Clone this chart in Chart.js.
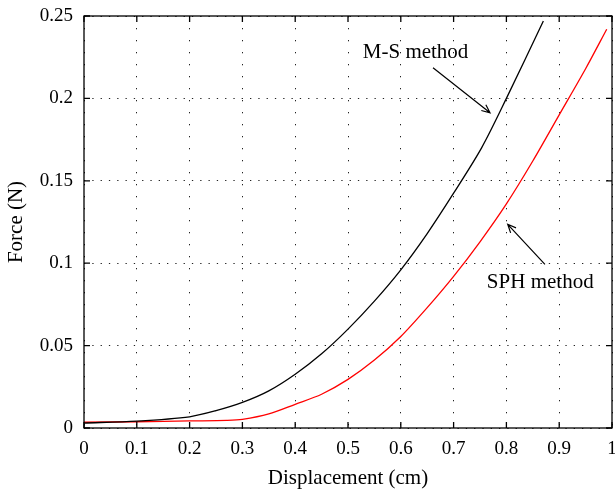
<!DOCTYPE html>
<html>
<head>
<meta charset="utf-8">
<script src="https://cdn.jsdelivr.net/npm/chart.js@4.4.1/dist/chart.umd.min.js"></script>
<style>
html, body { margin: 0; padding: 0; background: #fff; }
#wrap { width: 615px; height: 494px; }
</style>
</head>
<body>
<div id="wrap"><canvas id="grafico" width="615" height="494"></canvas></div>
<script>
// valores
const msX  = [0, 0.1, 0.2, 0.25, 0.3, 0.35, 0.4, 0.45, 0.5, 0.55, 0.6, 0.65, 0.7, 0.753, 0.8, 0.87];
const msY  = [0.003, 0.0042, 0.0068, 0.0105, 0.0155, 0.0225, 0.0326, 0.045, 0.06, 0.077, 0.096, 0.118, 0.1425, 0.170, 0.2, 0.247];
const sphX = [0, 0.1, 0.2, 0.27, 0.3, 0.35, 0.4, 0.45, 0.5, 0.55, 0.6, 0.65, 0.7, 0.75, 0.8, 0.85, 0.9, 0.95, 0.99];
const sphY = [0.0035, 0.0038, 0.0043, 0.0046, 0.0052, 0.0085, 0.0144, 0.0205, 0.0295, 0.0412, 0.0555, 0.073, 0.092, 0.113, 0.136, 0.162, 0.19, 0.218, 0.242];

const xTicks = [0, 0.1, 0.2, 0.3, 0.4, 0.5, 0.6, 0.7, 0.8, 0.9, 1];
const yTicks = [0, 0.05, 0.1, 0.15, 0.2, 0.25];

const seriesNames = ['M-S method', 'SPH method'];

// posição das anotações em unidades dos eixos
const notas = [
    { text: seriesNames[0], x: 0.528, y: 0.2277, from: [0.661, 0.2186], to: [0.769, 0.1913] },
    { text: seriesNames[1], x: 0.763, y: 0.0886, from: [0.873, 0.0993], to: [0.8025, 0.1236] }
];

const serif = "'Liberation Serif', 'Times New Roman', serif";

function pontos(xs, ys) {
    return xs.map((x, i) => ({ x: x, y: ys[i] }));
}

function fixarEixo(largura, altura) {
    return function (scale) {
        if (largura !== null) scale.width = largura;
        if (altura !== null) scale.height = altura;
        scale.paddingLeft = 0;
        scale.paddingRight = 0;
        scale.paddingTop = 0;
        scale.paddingBottom = 0;
    };
}

const molduraPlugin = {
    id: 'moldura',
    afterDraw(chart) {
        const ctx = chart.ctx;
        const a = chart.chartArea;
        const sx = chart.scales.x;
        const sy = chart.scales.y;
        const tick = 6;
        ctx.save();
        ctx.strokeStyle = '#000';
        ctx.lineWidth = 1.3;
        ctx.beginPath();
        xTicks.forEach(v => {
            const px = sx.getPixelForValue(v);
            ctx.moveTo(px, a.bottom); ctx.lineTo(px, a.bottom - tick);
            ctx.moveTo(px, a.top); ctx.lineTo(px, a.top + tick);
        });
        yTicks.forEach(v => {
            const py = sy.getPixelForValue(v);
            ctx.moveTo(a.left, py); ctx.lineTo(a.left + tick, py);
            ctx.moveTo(a.right, py); ctx.lineTo(a.right - tick, py);
        });
        ctx.stroke();
        ctx.strokeRect(a.left, a.top, a.right - a.left, a.bottom - a.top);

        // anotações
        ctx.fillStyle = '#000';
        ctx.font = '21px ' + serif;
        ctx.textBaseline = 'middle';
        ctx.textAlign = 'left';
        ctx.lineWidth = 1.2;
        notas.forEach(n => {
            ctx.fillText(n.text, sx.getPixelForValue(n.x), sy.getPixelForValue(n.y));
            const x1 = sx.getPixelForValue(n.from[0]), y1 = sy.getPixelForValue(n.from[1]);
            const x2 = sx.getPixelForValue(n.to[0]), y2 = sy.getPixelForValue(n.to[1]);
            const ang = Math.atan2(y2 - y1, x2 - x1);
            ctx.beginPath();
            ctx.moveTo(x1, y1); ctx.lineTo(x2, y2);
            ctx.moveTo(x2 - 9 * Math.cos(ang - 0.42), y2 - 9 * Math.sin(ang - 0.42));
            ctx.lineTo(x2, y2);
            ctx.lineTo(x2 - 9 * Math.cos(ang + 0.42), y2 - 9 * Math.sin(ang + 0.42));
            ctx.stroke();
        });
        ctx.restore();
    }
};

const ctx = document.getElementById('grafico').getContext('2d');

new Chart(ctx, {
    type: 'scatter',
    data: {
        datasets: [{
            label: seriesNames[0],
            data: pontos(msX, msY),
            showLine: true,
            borderColor: '#000000',
            borderWidth: 1.3,
            pointRadius: 0,
            tension: 0.3
        }, {
            label: seriesNames[1],
            data: pontos(sphX, sphY),
            showLine: true,
            borderColor: '#ff0000',
            borderWidth: 1.3,
            pointRadius: 0,
            tension: 0.3
        }]
    },
    options: {
        responsive: false,
        animation: false,
        layout: { padding: { left: 0, right: 3, top: 16, bottom: 3 } },
        plugins: {
            legend: { display: false },
            tooltip: { enabled: false }
        },
        scales: {
            x: {
                type: 'linear',
                min: 0,
                max: 1,
                afterBuildTicks: s => { s.ticks = xTicks.map(v => ({ value: v })); },
                afterFit: fixarEixo(null, 63),
                ticks: {
                    color: '#000',
                    padding: 10,
                    font: { family: serif, size: 19 },
                    callback: v => String(v)
                },
                grid: { color: '#222', lineWidth: 1, drawTicks: false },
                border: { display: false, dash: [1.3, 10.7] },
                title: {
                    display: true,
                    text: 'Displacement (cm)',
                    color: '#000',
                    font: { family: serif, size: 21 },
                    padding: { top: 0, bottom: 0 }
                }
            },
            y: {
                type: 'linear',
                min: 0,
                max: 0.25,
                afterBuildTicks: s => { s.ticks = yTicks.map(v => ({ value: v })); },
                afterFit: fixarEixo(84, null),
                ticks: {
                    color: '#000',
                    padding: 11,
                    font: { family: serif, size: 19 },
                    callback: v => String(v)
                },
                grid: { color: '#222', lineWidth: 1, drawTicks: false },
                border: { display: false, dash: [1.3, 7] },
                title: {
                    display: true,
                    text: 'Force (N)',
                    color: '#000',
                    font: { family: serif, size: 21 },
                    padding: { top: 4, bottom: 0 }
                }
            }
        }
    },
    plugins: [molduraPlugin]
});
</script>
</body>
</html>
